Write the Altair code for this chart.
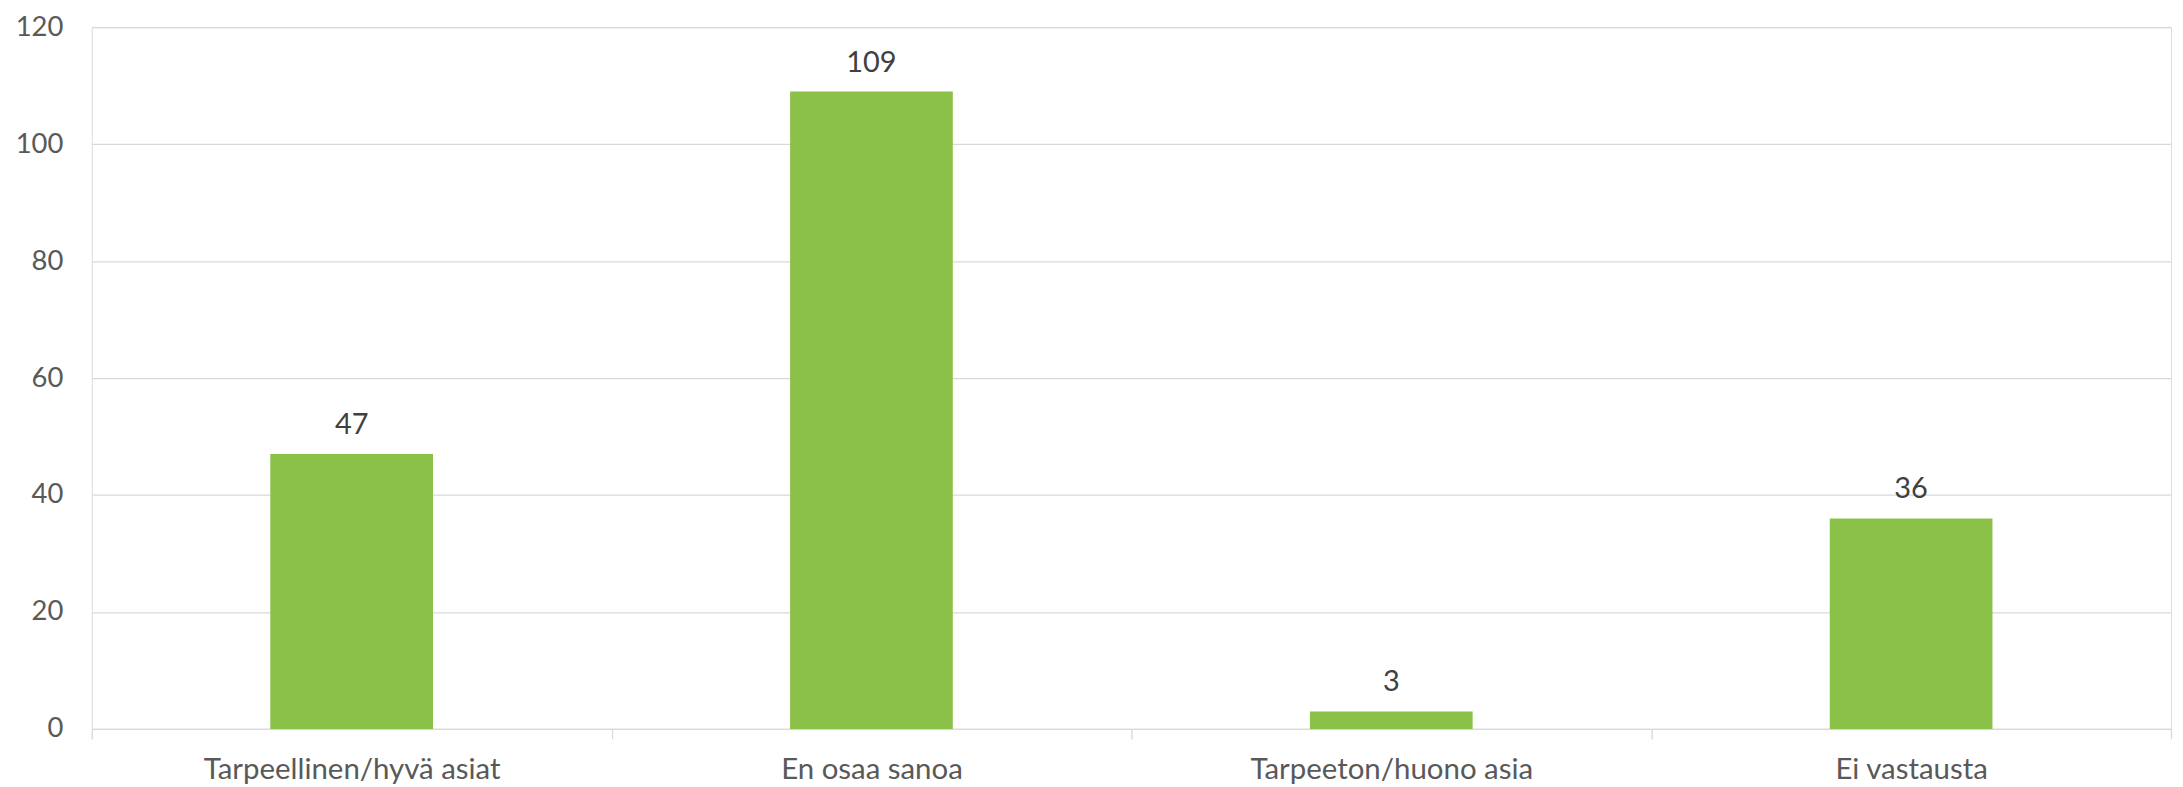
import altair as alt
import pandas as pd

categories = ["Tarpeellinen/hyvä asiat", "En osaa sanoa", "Tarpeeton/huono asia", "Ei vastausta"]
values = [47, 109, 3, 36]

df = pd.DataFrame({"cat": categories, "val": values})

FONT = "Lato"
W, H = 2086, 704

x = alt.X("cat:N", sort=categories, title=None,
          scale=alt.Scale(paddingInner=0, paddingOuter=0),
          axis=alt.Axis(labelAngle=0, labelFont=FONT, labelFontSize=29.5, labelColor="#595959",
                        labelLimit=0,
                        domainColor="#D9D9D9", domainWidth=1.3, tickColor="#D9D9D9", tickWidth=1.3,
                        tickSize=10, tickBand="extent", labelPadding=40, labelBaseline="alphabetic",
                        grid=False))
y = alt.Y("val:Q", title=None,
          scale=alt.Scale(domain=[0, 120], nice=False),
          axis=alt.Axis(values=[0, 20, 40, 60, 80, 100, 120], labelFont=FONT, labelFontSize=27.5,
                        labelColor="#595959", domain=False, ticks=False, labelPadding=29,
                        gridColor="#D9D9D9", gridWidth=1.3))

base = alt.Chart(df)
bars = base.mark_bar(color="#8BC148", width=alt.RelativeBandSize(0.313)).encode(x=x, y=y)
labels = base.mark_text(font=FONT, fontSize=29, color="#404040", baseline="alphabetic", dy=-20).encode(
    x=alt.X("cat:N", sort=categories), y="val:Q", text="val:Q")

chart = alt.layer(bars, labels).properties(
    width=W, height=H,
    autosize=alt.AutoSizeParams(type="none"),
    padding={"left": 84, "top": 18, "right": 4, "bottom": 55},
).configure_view(stroke=None).configure(background="white")

chart.save("out.html", embed_options={"renderer": "svg", "actions": False})
